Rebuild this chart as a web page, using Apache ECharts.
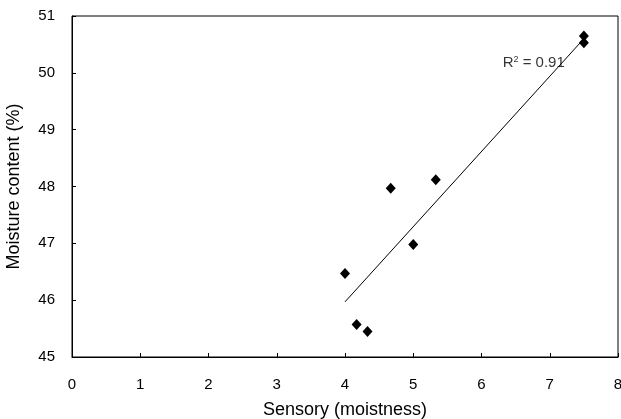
<!DOCTYPE html>
<html><head><meta charset="utf-8">
<script src="https://cdn.jsdelivr.net/npm/echarts@6/dist/echarts.min.js"></script>
<style>html,body{margin:0;padding:0;background:#fff}#c{width:621px;height:419px}</style>
</head><body><div id="c"></div>
<script>
const sensory = [7.5, 7.5, 4.67, 5.33, 5.0, 4.0, 4.17, 4.33];
const moisture = [50.65, 50.53, 47.97, 48.12, 46.98, 46.47, 45.57, 45.45];
const trendX = [4.0, 7.5];
const trendY = [45.97, 50.6];
const r2Value = '0.91';
const r2Pos = [6.31, 50.17];
const xTicks = [0,1,2,3,4,5,6,7,8];
const yTicks = [45,46,47,48,49,50,51];

const font = 'Liberation Sans, Arial, sans-serif';
const chart = echarts.init(document.getElementById('c'), null, {renderer:'canvas'});
chart.setOption({
  animation:false,
  backgroundColor:'#fff',
  grid:{left:72, right:3, top:16, bottom:62, show:true, borderColor:'#000', borderWidth:1,
        backgroundColor:'transparent', containLabel:false, outerBoundsMode:'none'},
  xAxis:{type:'value', min:xTicks[0], max:xTicks[xTicks.length-1], interval:1,
    name:'Sensory (moistness)', nameLocation:'middle', nameGap:44,
    nameTextStyle:{fontFamily:font, fontSize:18, color:'#000'},
    axisLine:{lineStyle:{color:'#000', width:1}},
    axisTick:{inside:true, length:4, lineStyle:{color:'#000'}},
    axisLabel:{margin:20, fontFamily:font, fontSize:15, color:'#000', hideOverlap:false},
    splitLine:{show:false}},
  yAxis:{type:'value', min:yTicks[0], max:yTicks[yTicks.length-1], interval:1,
    name:'Moisture content (%)', nameLocation:'middle', nameGap:49,
    nameTextStyle:{fontFamily:font, fontSize:18, color:'#000'},
    axisLine:{lineStyle:{color:'#000', width:1}},
    axisTick:{inside:true, length:4, lineStyle:{color:'#000'}},
    axisLabel:{margin:17, fontFamily:font, fontSize:15, color:'#000'},
    splitLine:{show:false}},
  series:[
    {type:'line', data:trendX.map((x,i)=>[x,trendY[i]]), symbol:'none',
     lineStyle:{color:'#000', width:1}, z:2},
    {type:'scatter', data:sensory.map((x,i)=>[x,moisture[i]]), symbol:'diamond', symbolSize:[10,11],
     itemStyle:{color:'#000', opacity:1}, z:3},
    {type:'scatter', data:[r2Pos], symbolSize:0, silent:true, z:4,
     label:{show:true, position:'right', distance:0,
       formatter:'R{sup|2} = ' + r2Value,
       fontFamily:font, fontSize:15, color:'#000',
       rich:{sup:{fontFamily:font, fontSize:9, color:'#000', verticalAlign:'bottom', padding:[0,0,7,0]}}}}
  ]
});
</script></body></html>
